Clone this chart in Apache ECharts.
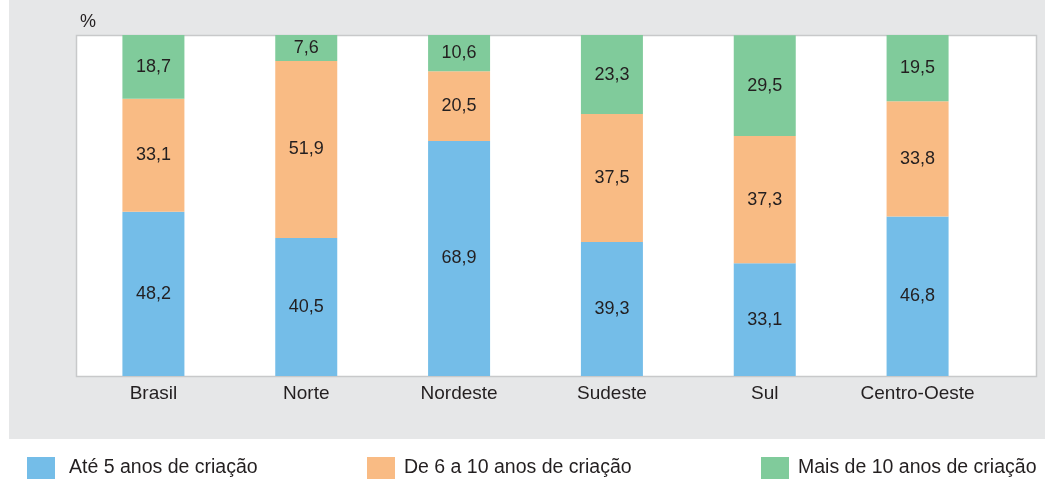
<!DOCTYPE html>
<html>
<head>
<meta charset="utf-8">
<script src="https://cdn.jsdelivr.net/npm/echarts@6/dist/echarts.min.js"></script>
<style>
  html, body { margin: 0; padding: 0; background: #ffffff; }
  #chart { width: 1045px; height: 479px; }
</style>
</head>
<body>
<div id="chart"></div>
<script>
// Regions and the share of companies by age bracket (%)
const categories = ['Brasil', 'Norte', 'Nordeste', 'Sudeste', 'Sul', 'Centro-Oeste'];
const ate5 = [48.2, 40.5, 68.9, 39.3, 33.1, 46.8];
const de6a10 = [33.1, 51.9, 20.5, 37.5, 37.3, 33.8];
const mais10 = [18.7, 7.6, 10.6, 23.3, 29.5, 19.5];
const seriesNames = ['Até 5 anos de criação', 'De 6 a 10 anos de criação', 'Mais de 10 anos de criação'];
const colors = ['#74bde8', '#f9bb84', '#80cb9b'];

const FONT = 'Liberation Sans';
const TEXT = '#231f20';

const chart = echarts.init(document.getElementById('chart'), null, { renderer: 'canvas' });

function fmt(v) { return v.toFixed(1).replace('.', ','); }

function barSeries(name, data, color) {
  return {
    name: name,
    type: 'bar',
    stack: 'total',
    data: data,
    barWidth: 62,
    itemStyle: { color: color },
    label: {
      show: true,
      position: 'inside',
      color: TEXT,
      fontFamily: FONT,
      fontSize: 18,
      formatter: p => fmt(p.value)
    }
  };
}

function legendAt(left, name, gap) {
  return {
    data: [name],
    left: left,
    top: 457,
    padding: 0,
    itemWidth: 28,
    itemHeight: 22,
    selectedMode: false,
    icon: 'rect',
    textStyle: { color: TEXT, fontFamily: FONT, fontSize: 19.5, padding: [5, 0, 0, gap] }
  };
}

chart.setOption({
  animation: false,
  backgroundColor: '#ffffff',
  graphic: {
    elements: [
      { type: 'rect', z: -10, shape: { x: 9, y: 0, width: 1036, height: 439 }, style: { fill: '#e6e7e8' } },
      { type: 'rect', z: -9, shape: { x: 76.5, y: 35.5, width: 960, height: 341 }, style: { fill: '#ffffff', stroke: '#c8c9ca', lineWidth: 1.5 } },
      { type: 'text', z: 5, left: 80, top: 13, style: { text: '%', fill: TEXT, font: '18px ' + FONT } }
    ]
  },
  legend: [
    legendAt(27, seriesNames[0], 9),
    legendAt(367, seriesNames[1], 4),
    legendAt(761, seriesNames[2], 4)
  ],
  grid: { left: 77, top: 35, width: 917, height: 341 },
  xAxis: {
    type: 'category',
    data: categories,
    axisLine: { show: false },
    axisTick: { show: false },
    axisLabel: { color: TEXT, fontFamily: FONT, fontSize: 19, margin: 8 }
  },
  yAxis: {
    type: 'value',
    min: 0,
    max: 100,
    show: false,
    splitLine: { show: false }
  },
  series: [
    barSeries(seriesNames[0], ate5, colors[0]),
    barSeries(seriesNames[1], de6a10, colors[1]),
    barSeries(seriesNames[2], mais10, colors[2])
  ]
});
</script>
</body>
</html>
